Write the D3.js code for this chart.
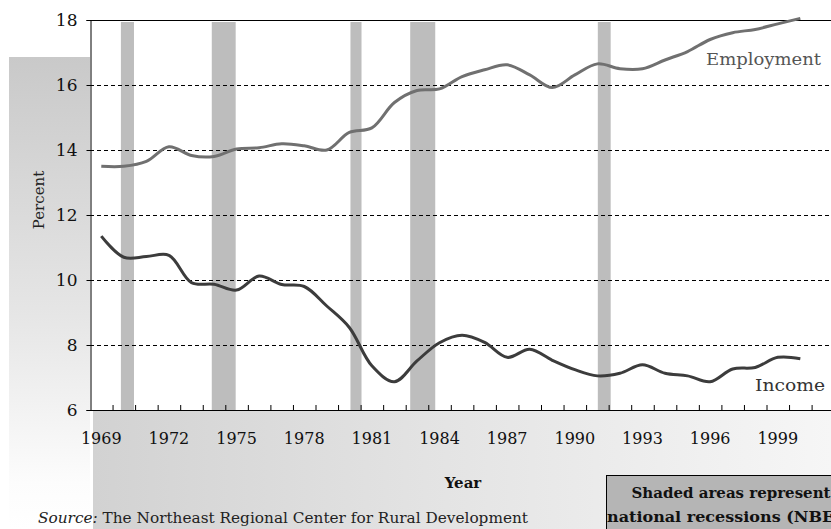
<!DOCTYPE html>
<html>
<head>
<meta charset="utf-8">
<script src="https://cdn.jsdelivr.net/npm/d3@7"></script>
<style>
  html, body { margin: 0; padding: 0; background: #fff; overflow: hidden; }
  svg { display: block; font-family: "DejaVu Serif", serif; }
</style>
</head>
<body>
<svg id="chart" width="831" height="529"></svg>
<script>
// ---------------- data ----------------
const years = d3.range(1969, 2002); // 1969..2001 categories (2001 empty)
const employment = [13.5, 13.5, 13.65, 14.1, 13.83, 13.8, 14.03, 14.07, 14.19, 14.13, 14.0, 14.54,
  14.68, 15.46, 15.83, 15.88, 16.26, 16.47, 16.62, 16.31, 15.92, 16.31, 16.65, 16.5, 16.5,
  16.77, 17.03, 17.4, 17.61, 17.71, 17.88, 18.05];
const income = [11.35, 10.7, 10.72, 10.76, 9.92, 9.87, 9.69, 10.12, 9.86, 9.8, 9.2, 8.54,
  7.36, 6.87, 7.51, 8.07, 8.3, 8.08, 7.62, 7.87, 7.53, 7.24, 7.05, 7.13, 7.39, 7.13, 7.05,
  6.87, 7.26, 7.31, 7.62, 7.58];
const dataYears = d3.range(1969, 2001);
const recessions = [[1969.87, 1970.45], [1973.9, 1974.96], [1980.05, 1980.54], [1982.7, 1983.81], [1991.02, 1991.59]];
const yTicks = [6, 8, 10, 12, 14, 16, 18];
const gridTicks = [8, 10, 12, 14, 16];
const xLabelYears = d3.range(1969, 2000, 3);
const seriesNames = ["Employment", "Income"];

// ---------------- layout ----------------
const svg = d3.select("#chart");
const pLeft = 90, pTop = 20, pBottom = 410;
const bandW = 22.55;
const pRight = pLeft + years.length * bandW;

const defs = svg.append("defs");
const gL = defs.append("linearGradient").attr("id", "gLeft").attr("x1", 0).attr("y1", 0).attr("x2", 0).attr("y2", 1);
gL.append("stop").attr("offset", "0%").attr("stop-color", "#c9c9c9");
gL.append("stop").attr("offset", "55%").attr("stop-color", "#e6e6e6");
gL.append("stop").attr("offset", "90%").attr("stop-color", "#fcfcfc");
gL.append("stop").attr("offset", "100%").attr("stop-color", "#ffffff");
const gB = defs.append("linearGradient").attr("id", "gBot").attr("x1", 0).attr("y1", 0).attr("x2", 1).attr("y2", 0);
gB.append("stop").attr("offset", "0%").attr("stop-color", "#d2d2d2");
gB.append("stop").attr("offset", "45%").attr("stop-color", "#e3e3e3");
gB.append("stop").attr("offset", "100%").attr("stop-color", "#f6f6f6");

// background panels
svg.append("rect").attr("x", 9).attr("y", 57).attr("width", pLeft - 9).attr("height", 529 - 57).attr("fill", "url(#gLeft)");
svg.append("rect").attr("x", 93).attr("y", pBottom + 1).attr("width", 831 - 93).attr("height", 529 - pBottom).attr("fill", "url(#gBot)");
svg.append("rect").attr("x", pLeft).attr("y", pTop).attr("width", pRight - pLeft).attr("height", pBottom - pTop).attr("fill", "#fff");

// scales
const xBand = d3.scaleBand().domain(years).range([pLeft, pRight]).padding(0);
const xLin = d3.scaleLinear().domain([1969, 2001]).range([xBand(1969) + bandW / 2, xBand(2001) + bandW / 2]);
const y = d3.scaleLinear().domain([6, 18]).range([pBottom, pTop]);

// recession shading
svg.append("g").selectAll("rect").data(recessions).join("rect")
  .attr("x", d => xLin(d[0]))
  .attr("width", d => xLin(d[1]) - xLin(d[0]))
  .attr("y", pTop + 2)
  .attr("height", pBottom - pTop - 2)
  .attr("fill", "#bdbdbd");

// grid
svg.append("g").selectAll("line").data(gridTicks).join("line")
  .attr("x1", pLeft).attr("x2", pRight)
  .attr("y1", d => y(d) + 0.5).attr("y2", d => y(d) + 0.5)
  .attr("stroke", "#000").attr("stroke-width", 1).attr("stroke-dasharray", "4,3");

// top border
svg.append("line").attr("x1", pLeft).attr("x2", pRight).attr("y1", pTop + 0.5).attr("y2", pTop + 0.5)
  .attr("stroke", "#000").attr("stroke-width", 1);

// y axis
const yAxis = svg.append("g").attr("transform", `translate(${pLeft + 0.5},0)`)
  .call(d3.axisLeft(y).tickValues(yTicks).tickSize(4).tickPadding(9));
yAxis.selectAll("path, line").attr("stroke", "#000");
yAxis.selectAll("text").attr("font-family", "DejaVu Serif").attr("font-size", 17).attr("fill", "#111");

// x axis: line + inward ticks at category boundaries, labels at centres
svg.append("line").attr("x1", pLeft).attr("x2", pRight).attr("y1", pBottom + 0.5).attr("y2", pBottom + 0.5)
  .attr("stroke", "#000").attr("stroke-width", 1);
svg.append("g").selectAll("line").data(years.slice(1)).join("line")
  .attr("x1", d => xBand(d) + 0.5).attr("x2", d => xBand(d) + 0.5)
  .attr("y1", pBottom - 5).attr("y2", pBottom)
  .attr("stroke", "#000");
const xAxis = svg.append("g").attr("transform", `translate(0,${pBottom})`)
  .call(d3.axisBottom(xBand).tickValues(xLabelYears).tickSize(0).tickPadding(23));
xAxis.select(".domain").remove();
xAxis.selectAll("text").attr("font-family", "DejaVu Serif").attr("font-size", 16).attr("fill", "#111");

// lines
const line = d3.line().x((d, i) => xLin(dataYears[i])).y(d => y(d)).curve(d3.curveCatmullRom.alpha(0.5));
svg.append("path").datum(employment).attr("d", line).attr("fill", "none")
  .attr("stroke", "#707070").attr("stroke-width", 3);
svg.append("path").datum(income).attr("d", line).attr("fill", "none")
  .attr("stroke", "#3c3c3c").attr("stroke-width", 3);

// series labels
svg.append("text").attr("x", 706).attr("y", 65).attr("font-size", 16).attr("fill", "#555")
  .attr("textLength", 115).attr("lengthAdjust", "spacingAndGlyphs").text(seriesNames[0]);
svg.append("text").attr("x", 755).attr("y", 391).attr("font-size", 16).attr("fill", "#333")
  .attr("textLength", 70).attr("lengthAdjust", "spacingAndGlyphs").text(seriesNames[1]);

// axis titles
svg.append("text").attr("transform", "translate(44,200) rotate(-90)").attr("text-anchor", "middle")
  .attr("font-size", 15).attr("fill", "#222").text("Percent");
svg.append("text").attr("x", 463).attr("y", 488).attr("text-anchor", "middle")
  .attr("font-size", 15).attr("font-weight", "bold").attr("fill", "#111").text("Year");

// source
const src = svg.append("text").attr("x", 38).attr("y", 523).attr("font-size", 15).attr("fill", "#222")
  .attr("textLength", 490).attr("lengthAdjust", "spacingAndGlyphs");
src.append("tspan").attr("font-style", "italic").text("Source:");
src.append("tspan").text(" The Northeast Regional Center for Rural Development");

// recession note box
svg.append("rect").attr("x", 606.5).attr("y", 475.5).attr("width", 250).attr("height", 70)
  .attr("fill", "#b5b5b5").attr("stroke", "#000").attr("stroke-width", 1);
svg.append("text").attr("x", 731).attr("y", 498).attr("text-anchor", "middle")
  .attr("font-size", 15).attr("font-weight", "bold").attr("fill", "#111").text("Shaded areas represent");
svg.append("text").attr("x", 731).attr("y", 522).attr("text-anchor", "middle")
  .attr("font-size", 15).attr("font-weight", "bold").attr("fill", "#111")
  .attr("textLength", 248).attr("lengthAdjust", "spacingAndGlyphs").text("national recessions (NBER)");
</script>
</body>
</html>
